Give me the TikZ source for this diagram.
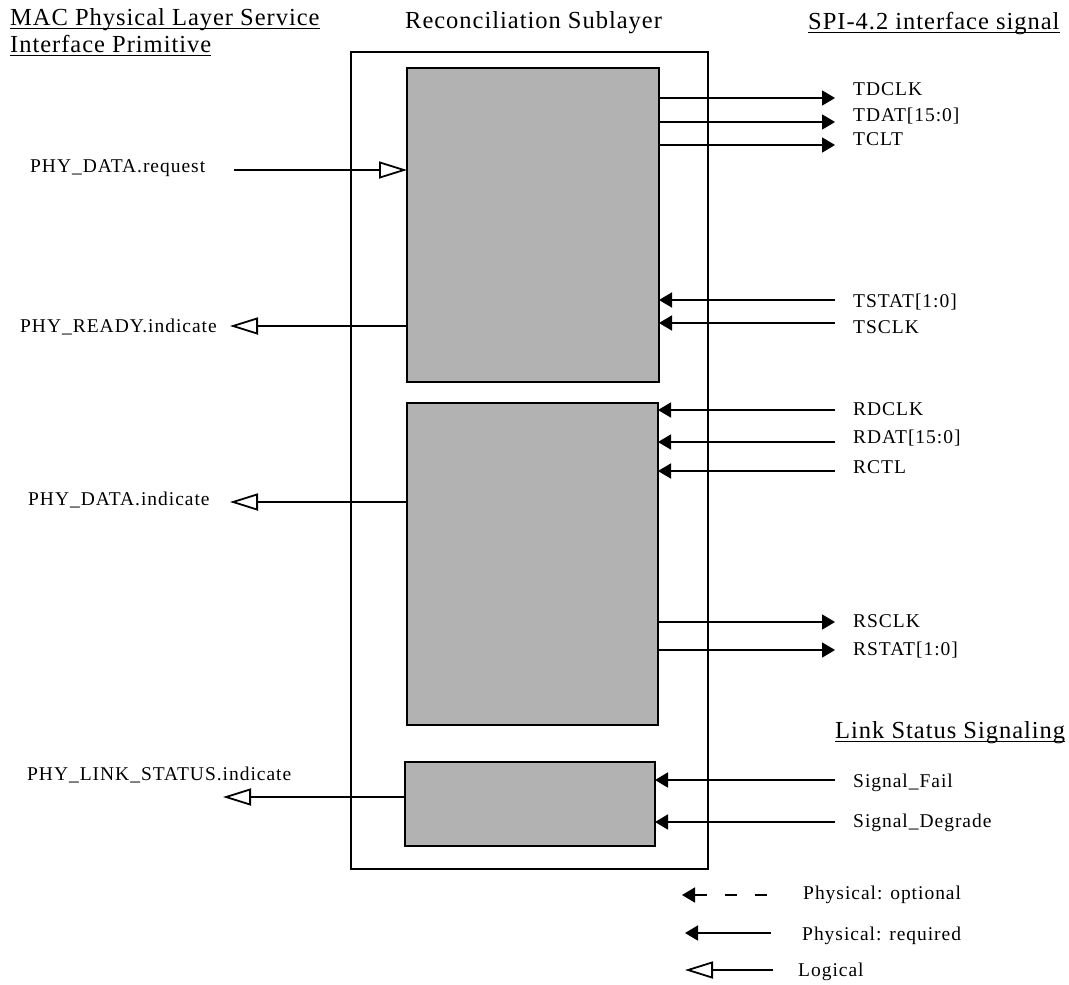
\documentclass[tikz,border=0pt]{standalone}
\usepackage{fontspec}
\setmainfont{Liberation Serif}
\newfontfamily\hdrfont{Liberation Serif}[LetterSpace=4]
\newfontfamily\sigfont{Liberation Serif}[LetterSpace=5]
\usetikzlibrary{arrows.meta,positioning,calc}
\definecolor{blkgray}{HTML}{B2B2B2}
\tikzset{blk/.style={draw,fill=blkgray,line width=1.8pt,inner sep=0pt,outer sep=0pt,anchor=north west},hdr/.style={font=\hdrfont\fontsize{24.5}{27}\selectfont,inner sep=0pt,anchor=base west},sig/.style={font=\sigfont\fontsize{19.5}{21}\selectfont,inner sep=0pt,anchor=base west},phys/.style={draw,line width=1.8pt,-{Triangle[length=13pt,width=15pt]}},physopt/.style={phys,dash pattern=on 12pt off 18pt},logic/.style={draw,line width=1.8pt,-{Triangle[open,length=28pt,width=17pt]}},uline/.style={line width=1.5pt}}

\begin{document}
\begin{tikzpicture}[x=1pt,y=-1pt]
\useasboundingbox (0,0) rectangle (1069,985);
% sublayer and its blocks
\node[draw,line width=1.8pt,inner sep=0pt,outer sep=0pt,anchor=north west,minimum width=357pt,minimum height=817pt] (rs) at (351,52) {};
\node[blk,minimum width=252pt,minimum height=314pt] (tx) at (407,68) {};
\node[blk,minimum width=251pt,minimum height=322pt] (rx) at (407,403) {};
\node[blk,minimum width=250pt,minimum height=84pt] (ls) at (405,762) {};
% headers
\node[hdr] (mac) at (10,25) {MAC Physical Layer Service};
\node[hdr] (prim) at (10,52) {Interface Primitive};
\node[hdr] (recon) at (405,28) {Reconciliation Sublayer};
\node[hdr] (spi) at (808,29) {SPI-4.2 interface signal};
\node[hdr] (lss) at (835,738) {Link Status Signaling};
\foreach \n in {mac,prim,spi,lss}{\draw[uline] ([yshift=-3.5pt]\n.base west)--([yshift=-3.5pt]\n.base east);}
% SPI-4.2 signals
\foreach \n/\b/\y/\lab/\src in {tdclk/95/98/TDCLK/tx,tdat/121/122/TDAT[15:0]/tx,tclt/145/145/TCLT/tx,rsclk/627/622/RSCLK/rx,rstat/655/650/RSTAT[1:0]/rx}{\node[sig] (\n) at (853,\b) {\lab};\coordinate (e\n) at (835,\y);\draw[phys] (\src.east |- e\n)--(e\n);}
\foreach \n/\b/\y/\lab/\src in {tstat/307/300/TSTAT[1:0]/tx,tsclk/333/323/TSCLK/tx,rdclk/415/410/RDCLK/rx,rdat/443/442/RDAT[15:0]/rx,rctl/473/471/RCTL/rx,sfail/787/780/Signal\_Fail/ls,sdeg/827/822/Signal\_Degrade/ls}{\node[sig] (\n) at (853,\b) {\lab};\coordinate (e\n) at (835,\y);\draw[phys] (e\n)--(\src.east |- e\n);}
% primitives
\node[sig] (req) at (30,172) {PHY\_DATA.request};
\node[sig] (rdy) at (20,332) {PHY\_READY.indicate};
\node[sig] (dind) at (28,505) {PHY\_DATA.indicate};
\node[sig] (lnk) at (27,780) {PHY\_LINK\_STATUS.indicate};
\coordinate (ereq) at (234,170);\coordinate (erdy) at (230,326);
\coordinate (edind) at (230,502);\coordinate (elnk) at (223,797);
\draw[logic] (ereq)--(tx.west |- ereq);
\draw[logic] (tx.west |- erdy)--(erdy);
\draw[logic] (rx.west |- edind)--(edind);
\draw[logic] (ls.west |- elnk)--(elnk);
% legend
\node[sig] (lopt) at (803,899) {Physical: optional};
\node[sig] (lreq) at (802,940) {Physical: required};
\node[sig] (llog) at (798,976) {Logical};
\coordinate (o1) at (767,895);\coordinate (o2) at (682,895);
\coordinate (r1) at (771,933);\coordinate (r2) at (685,933);
\coordinate (g1) at (773,970);\coordinate (g2) at (685,970);
\draw[physopt] (o1)--(o2);\draw[phys] (r1)--(r2);\draw[logic] (g1)--(g2);
\end{tikzpicture}
\end{document}
